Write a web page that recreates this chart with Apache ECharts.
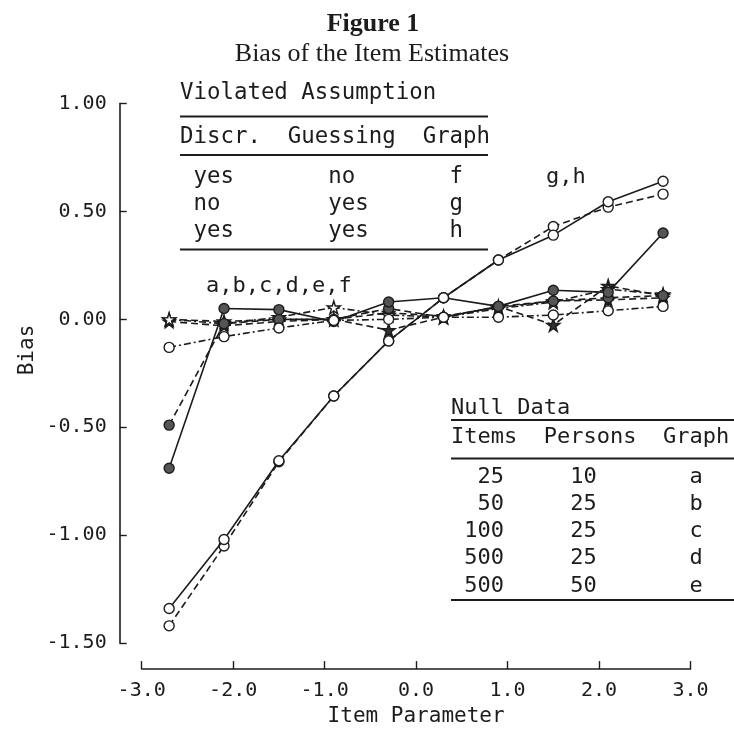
<!DOCTYPE html>
<html>
<head>
<meta charset="utf-8">
<script src="https://cdn.jsdelivr.net/npm/echarts@6/dist/echarts.min.js"></script>
<style>
  html, body { margin: 0; padding: 0; background: #fff; }
  #chart { width: 734px; height: 732px; }
</style>
</head>
<body>
<div id="chart"></div>
<script>
// item parameter values where every graph was evaluated
const itemParam = [-2.7, -2.1, -1.5, -0.9, -0.3, 0.3, 0.9, 1.5, 2.1, 2.7];

// bias per graph
const biasA = [0.00, -0.01, 0.00, 0.00, -0.05, 0.01, 0.06, -0.026, 0.155, 0.11];
const biasB = [-0.13, -0.08, -0.04, -0.005, 0.00, 0.01, 0.01, 0.02, 0.04, 0.06];
const biasC = [-0.49, -0.02, 0.00, 0.00, 0.05, 0.01, 0.06, 0.085, 0.10, 0.11];
const biasD = [0.00, -0.02, 0.01, 0.055, 0.02, 0.01, 0.05, 0.08, 0.14, 0.115];
const biasE = [-0.01, -0.03, -0.01, 0.00, 0.03, 0.015, 0.055, 0.085, 0.09, 0.10];
const biasF = [-0.69, 0.05, 0.045, -0.01, 0.08, 0.10, 0.06, 0.135, 0.125, 0.40];
const biasG = [-1.34, -1.02, -0.655, -0.355, -0.10, 0.10, 0.275, 0.39, 0.545, 0.64];
const biasH = [-1.42, -1.05, -0.66, -0.355, -0.10, 0.10, 0.275, 0.43, 0.52, 0.58];

// the two key tables
const discr = ["yes", "no", "yes"];
const guessing = ["no", "yes", "yes"];
const violGraph = ["f", "g", "h"];
const nullItems = [25, 50, 100, 500, 500];
const nullPersons = [10, 25, 25, 25, 50];
const nullGraph = ["a", "b", "c", "d", "e"];

const INK = "#1c1c1c";
const MONO = "'DejaVu Sans Mono', monospace";
const SERIF = "'Liberation Serif', 'Times New Roman', serif";
const STAR = "path://M50,0 L61,35 L98,35 L68,57 L79,91 L50,70 L21,91 L32,57 L2,35 L39,35 Z";

const pairs = (ys) => itemParam.map((x, i) => [x, ys[i]]);

function makeSeries(name, ys, lineType, symbol, fill, size, z) {
    return {
        name: name,
        type: "line",
        data: pairs(ys),
        symbol: symbol,
        symbolSize: size,
        z: z,
        lineStyle: { color: INK, width: 1.6, type: lineType },
        itemStyle: { color: fill, borderColor: INK, borderWidth: 1.4 },
        emphasis: { disabled: true },
        animation: false
    };
}

const DASH = [7, 4];
const DASHDOT = [7, 3, 2, 3];

function txt(text, x, y, size, opts) {
    opts = opts || {};
    return {
        type: "text",
        x: x,
        y: y,
        rotation: opts.rotation || 0,
        style: {
            text: text,
            font: (opts.weight || "normal") + " " + size + "px " + (opts.family || MONO),
            fill: INK,
            textAlign: opts.align || "left",
            align: opts.align || "left",
            textVerticalAlign: "middle",
            verticalAlign: "middle"
        }
    };
}

function rule(x1, x2, y) {
    return {
        type: "line",
        shape: { x1: x1, y1: y, x2: x2, y2: y },
        style: { stroke: INK, lineWidth: 1.8 }
    };
}

// build the typewriter rows of the tables
const violRows = discr.map((d, i) => " " + d.padEnd(10) + guessing[i].padEnd(9) + violGraph[i]);
const nullRows = nullItems.map((n, i) =>
    String(n).padStart(4) + String(nullPersons[i]).padStart(7) + "       " + nullGraph[i]);

const graphics = [
    txt("Figure 1", 373, 24, 26, { family: SERIF, weight: "bold", align: "center" }),
    txt("Bias of the Item Estimates", 372, 54, 26, { family: SERIF, align: "center" }),
    txt("Bias", 28, 350, 21, { rotation: Math.PI / 2, align: "center" }),

    txt("Violated Assumption", 180, 93, 22.4),
    rule(180, 488, 116.5),
    txt("Discr.  Guessing  Graph", 180, 137, 22.4),
    rule(180, 488, 155),
    rule(180, 488, 249.5),

    txt("a,b,c,d,e,f", 206, 286, 22),
    txt("g,h", 546, 177, 22),

    txt("Null Data", 451, 408, 22),
    rule(451, 734, 420),
    txt("Items  Persons  Graph", 451, 437, 22),
    rule(451, 734, 458.5),
    rule(451, 734, 600)
];
violRows.forEach((r, i) => graphics.push(txt(r, 180, 177 + i * 27, 22.4)));
nullRows.forEach((r, i) => graphics.push(txt(r, 451, 477 + i * 27.2, 22)));

const option = {
    backgroundColor: "#fff",
    animation: false,
    grid: { left: 141.7, right: 43.5, top: 103.5, bottom: 81.3 },
    xAxis: {
        type: "value",
        min: -3,
        max: 3,
        interval: 1,
        offset: 26,
        name: "Item Parameter",
        nameLocation: "middle",
        nameGap: 36,
        nameTextStyle: { fontFamily: MONO, fontSize: 21, color: INK },
        axisLine: { onZero: false, lineStyle: { color: INK, width: 1.6 } },
        axisTick: { inside: true, length: 8, lineStyle: { color: INK, width: 1.4 } },
        axisLabel: {
            margin: 12,
            fontFamily: MONO,
            fontSize: 20,
            color: INK,
            formatter: (v) => v.toFixed(1)
        },
        splitLine: { show: false }
    },
    yAxis: {
        type: "value",
        min: -1.5,
        max: 1,
        interval: 0.5,
        offset: 22,
        axisLine: { show: true, onZero: false, lineStyle: { color: INK, width: 1.6 } },
        axisTick: { show: true, inside: true, length: 7, lineStyle: { color: INK, width: 1.4 } },
        axisLabel: {
            margin: 13,
            fontFamily: MONO,
            fontSize: 20,
            color: INK,
            formatter: (v) => v.toFixed(2)
        },
        splitLine: { show: false }
    },
    graphic: graphics,
    series: [
        makeSeries("a", biasA, DASH, STAR, "#333", 13, 3),
        makeSeries("e", biasE, DASH, STAR, "#444", 12, 3),
        makeSeries("d", biasD, DASHDOT, STAR, "#fff", 13, 4),
        makeSeries("c", biasC, DASH, "circle", "#555", 10, 4),
        makeSeries("f", biasF, "solid", "circle", "#555", 10, 5),
        makeSeries("b", biasB, DASHDOT, "circle", "#fff", 10, 6),
        makeSeries("h", biasH, DASH, "circle", "#fff", 10, 6),
        makeSeries("g", biasG, "solid", "circle", "#fff", 10, 7)
    ]
};

const chart = echarts.init(document.getElementById("chart"), null, { renderer: "canvas" });
chart.setOption(option);
</script>
</body>
</html>
